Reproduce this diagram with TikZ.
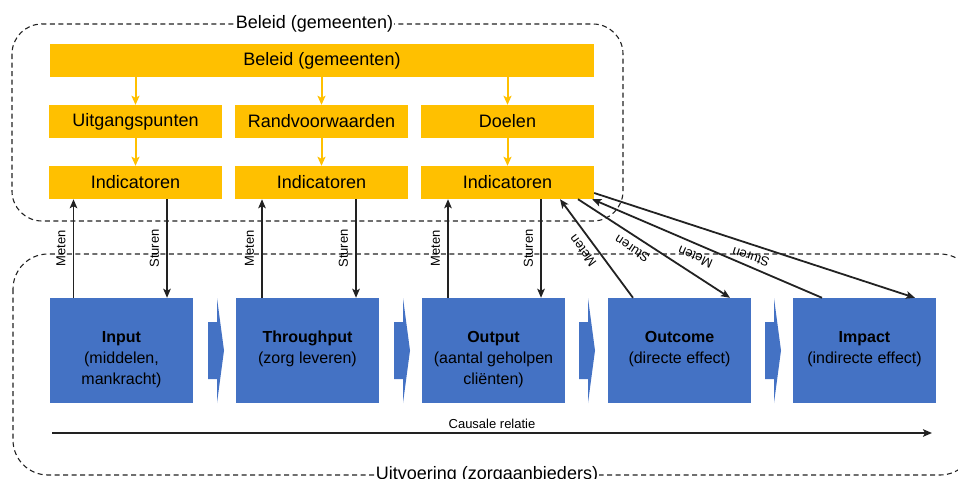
\documentclass[tikz,border=0pt]{standalone}
\usepackage{fontspec}
\setmainfont{Liberation Sans}
\usetikzlibrary{arrows.meta,calc}
\definecolor{ylw}{HTML}{FFC000}
\definecolor{blu}{HTML}{4472C4}
\definecolor{ink}{HTML}{222222}
\begin{document}
\begin{tikzpicture}[x=1pt,y=1pt,
  ybox/.style={fill=ylw, minimum width=173pt, minimum height=33pt, inner sep=0pt, font=\fontsize{18}{22}\selectfont},
  bbox/.style={fill=blu, minimum width=143pt, minimum height=105pt, inner sep=0pt},
  btext/.style={anchor=north, align=center, inner sep=0pt, font=\fontsize{16}{21}\selectfont},
  yarr/.style={draw=ylw, line width=2pt, -{Stealth[length=9pt,width=8pt,inset=2pt]}},
  karr/.style={draw=ink, line width=1.8pt},
  mtip/.style={-{Stealth[length=9pt,width=7.5pt,inset=2pt]}},
  rtip/.style={{Stealth[length=9pt,width=7.5pt,inset=2pt]}-},
  lbl/.style={font=\fontsize{13}{15}\selectfont, sloped, allow upside down, above=4.5pt, inner sep=2.5pt},
  dbox/.style={draw=ink, line width=1.1pt, dash pattern=on 5pt off 3.5pt},
  ttl/.style={fill=white, inner sep=1pt, font=\fontsize{18}{22}\selectfont}
]
\useasboundingbox (0,0) rectangle (958,-479);
% dashed group frames
\draw[dbox, rounded corners=30pt] (12,-24) rectangle (623,-221);
\draw[dbox, rounded corners=35pt] (13,-254) rectangle (975,-475);
\node[ttl] (t1) at (314.5,-24) {Beleid (gemeenten)};
\node[ttl] (t2) at (487,-475) {Uitvoering (zorgaanbieders)};

% yellow boxes
\node[ybox, minimum width=544pt] (bel) at (322,-60.5) {Beleid (gemeenten)};
\node[ybox] (uit) at (135.5,-121.5) {Uitgangspunten};
\node[ybox] (ran) at (321.5,-121.5) {Randvoorwaarden};
\node[ybox] (doe) at (507.5,-121.5) {Doelen};
\node[ybox] (i1) at (135.5,-182.5) {Indicatoren};
\node[ybox] (i2) at (321.5,-182.5) {Indicatoren};
\node[ybox] (i3) at (507.5,-182.5) {Indicatoren};

\draw[yarr] (bel.south -| uit.north) -- (uit.north);
\draw[yarr] (bel.south -| ran.north) -- (ran.north);
\draw[yarr] (bel.south -| doe.north) -- (doe.north);
\draw[yarr] (uit.south) -- (i1.north);
\draw[yarr] (ran.south) -- (i2.north);
\draw[yarr] (doe.south) -- (i3.north);

% blue boxes
\node[bbox] (inp) at (121.5,-350.5) {};
\node[bbox] (thr) at (307.5,-350.5) {};
\node[bbox] (out) at (493.5,-350.5) {};
\node[bbox] (outc) at (679.5,-350.5) {};
\node[bbox] (imp) at (864.5,-350.5) {};
\node[btext] (inpT) at ([yshift=-33pt]inp.north) {\textbf{Input}\\(middelen,\\mankracht)};
\node[btext] (thrT) at ([yshift=-33pt]thr.north) {\textbf{Throughput}\\(zorg leveren)};
\node[btext] (outT) at ([yshift=-33pt]out.north) {\textbf{Output}\\(aantal geholpen\\cliënten)};
\node[btext] (outcT) at ([yshift=-33pt]outc.north) {\textbf{Outcome}\\(directe effect)};
\node[btext] (impT) at ([yshift=-33pt]imp.north) {\textbf{Impact}\\(indirecte effect)};

% chevrons
\foreach \dx in {0,186,371,557}
  \fill[blu, xshift=\dx pt] (208,-322) -- (217,-322) -- (217,-298) -- (224,-350.5)
     -- (217,-403) -- (217,-379) -- (208,-379) -- cycle;

% vertical measure / steer arrows
\coordinate (a1) at ([xshift=-48pt]inp.north);
\coordinate (a2) at ([xshift=45.5pt]inp.north);
\coordinate (a3) at ([xshift=-45.5pt]thr.north);
\coordinate (a4) at ([xshift=48.5pt]thr.north);
\coordinate (a5) at ([xshift=-45.5pt]out.north);
\coordinate (a6) at ([xshift=47.5pt]out.north);
\draw[karr, mtip] (a1) -- node[lbl]{Meten} (a1 |- i1.south);
\draw[karr, rtip] (a2) -- node[lbl]{Sturen} (a2 |- i1.south);
\draw[karr, mtip] (a3) -- node[lbl]{Meten} (a3 |- i2.south);
\draw[karr, rtip] (a4) -- node[lbl]{Sturen} (a4 |- i2.south);
\draw[karr, mtip] (a5) -- node[lbl]{Meten} (a5 |- i3.south);
\draw[karr, rtip] (a6) -- node[lbl]{Sturen} (a6 |- i3.south);

% diagonal arrows
\coordinate (d1) at ([xshift=-46.5pt]outc.north);
\coordinate (e1) at ([xshift=52.5pt]i3.south);
\coordinate (d2) at ([xshift=50.5pt]outc.north);
\coordinate (e2) at ([xshift=70.5pt]i3.south);
\coordinate (d3) at ([xshift=-42.5pt]imp.north);
\coordinate (e3) at ([xshift=-2pt]i3.south east);
\coordinate (d4) at ([xshift=50.5pt]imp.north);
\coordinate (e4) at ([yshift=-10.5pt]i3.east);
\draw[karr, mtip] (d1) -- node[lbl, pos=0.55]{Meten} (e1);
\draw[karr, rtip] (d2) -- node[lbl, pos=0.6]{Sturen} (e2);
\draw[karr, mtip] (d3) -- node[lbl, pos=0.53]{Meten} (e3);
\draw[karr, rtip] (d4) -- node[lbl, pos=0.5]{Sturen} (e4);

% causal relation
\coordinate (c1) at (52,-433);
\coordinate (c2) at (932,-433);
\draw[karr, mtip] (c1) -- node[above=3pt, inner sep=0pt, font=\fontsize{13}{15}\selectfont]{Causale relatie} (c2);
\end{tikzpicture}
\end{document}
